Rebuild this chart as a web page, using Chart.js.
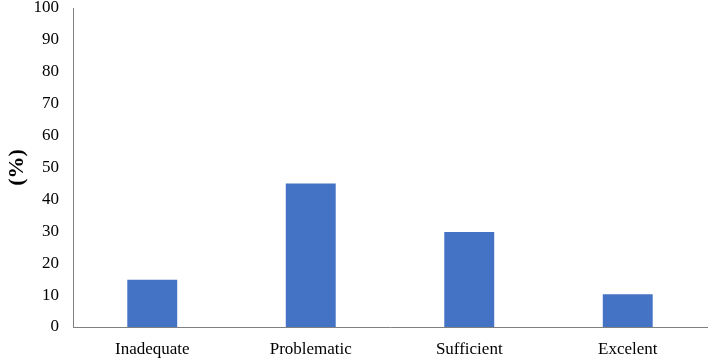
<!DOCTYPE html>
<html lang="en">
<head>
    <meta charset="UTF-8">
    <title>Rating distribution</title>
    <script src="https://cdn.jsdelivr.net/npm/chart.js"></script>
    <style>
        html, body { margin: 0; padding: 0; background: #fff; }
        #wrap { width: 708px; height: 359px; }
    </style>
</head>
<body>
    <div id="wrap"><canvas id="myChart" width="708" height="359"></canvas></div>
    <script>
        // values
        const categories = ['Inadequate', 'Problematic', 'Sufficient', 'Excelent'];
        const percentValues = [14.8, 45, 29.8, 10.3];
        const yTicks = [0, 10, 20, 30, 40, 50, 60, 70, 80, 90, 100];

        const serif = "'Liberation Serif', 'Times New Roman', serif";

        const ctx = document.getElementById('myChart').getContext('2d');
        new Chart(ctx, {
            type: 'bar',
            data: {
                labels: categories,
                datasets: [{
                    label: '(%)',
                    data: percentValues,
                    backgroundColor: '#4472C4',
                    borderWidth: 0,
                    barPercentage: 0.315,
                    categoryPercentage: 1.0
                }]
            },
            options: {
                responsive: false,
                animation: false,
                layout: { padding: { top: 0, right: 1, left: 0, bottom: 0 } },
                plugins: {
                    legend: { display: false },
                    tooltip: { enabled: false }
                },
                scales: {
                    x: {
                        grid: { display: false, drawTicks: false },
                        border: { display: true, color: '#808080', width: 1 },
                        ticks: {
                            color: '#000',
                            padding: 12,
                            font: { family: serif, size: 17 }
                        },
                        afterFit: scale => { scale.height = 32; }
                    },
                    y: {
                        min: 0,
                        max: 100,
                        afterBuildTicks: scale => {
                            scale.ticks = yTicks.map(v => ({ value: v }));
                        },
                        grid: { display: false, drawTicks: false },
                        border: { display: true, color: '#808080', width: 1 },
                        ticks: {
                            color: '#000',
                            padding: 14,
                            font: { family: serif, size: 17 }
                        },
                        title: {
                            display: true,
                            text: '(%)',
                            color: '#000',
                            padding: { top: 4, bottom: 0 },
                            font: { family: serif, size: 22, weight: 'bold' }
                        },
                        afterFit: scale => {
                            scale.width = 73;
                            scale.paddingTop = 8;
                            scale.paddingBottom = 0;
                        }
                    }
                }
            }
        });
    </script>
</body>
</html>
